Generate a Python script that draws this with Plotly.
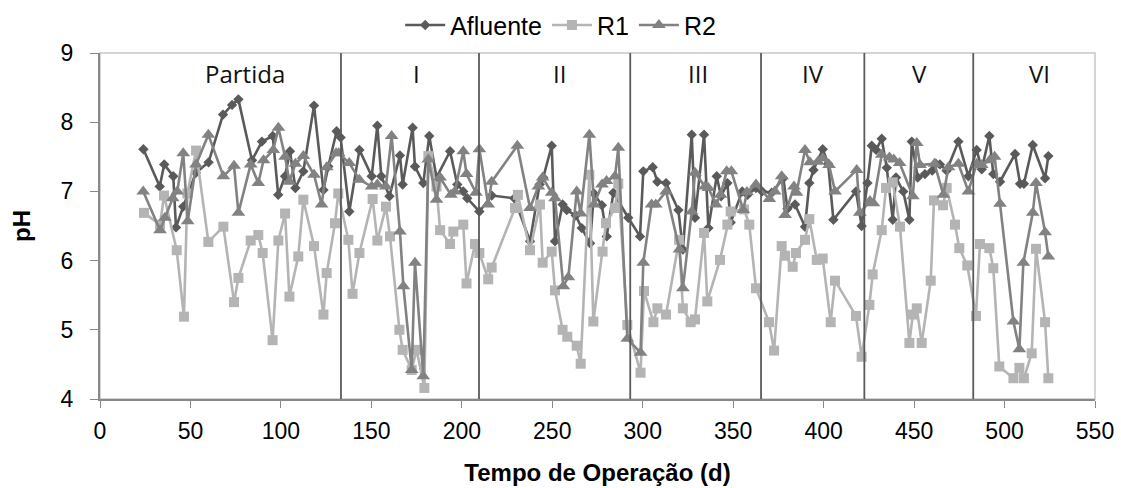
import plotly.graph_objects as go

# ---------------- data ----------------
afl_days = [24, 33, 35.5, 40.5, 42, 46, 53, 60, 68, 73, 76.5, 84, 89.5, 95.5, 98.5, 102.3, 105, 108,
            112.4, 118.3, 123.5, 126.2, 130.8, 133, 137.8, 143.4, 150.2, 153.3, 155.5, 160, 165.8, 167.3,
            172.8, 174.1, 178.7, 182, 186, 193.5, 197.5, 200.8, 203, 209.7, 216.5, 229, 237.7, 243, 245,
            249.7, 251.5, 255.7, 258, 263, 266.3, 270.9, 273, 277.4, 280.1, 283.8, 292, 298.5, 300.3,
            305.5, 308.1, 312.9, 319.7, 322.2, 327.1, 328.9, 333.9, 336.3, 340.9, 343.3, 346.8, 348.6,
            355, 358, 362.6, 366, 371.3, 377.7, 380, 384.2, 389.7, 392.1, 394.4, 399.5, 402.5, 405.4,
            417.9, 421, 424.2, 426.6, 429, 432.1, 434.9, 438.2, 440, 444, 447.4, 448.7, 452, 456, 460,
            462, 464.3, 468, 474.5, 480, 484.6, 487.4, 491.6, 493.8, 497.5, 505.8, 508.6, 510.7, 515.6,
            522.4, 524.2]
afl_ph = [7.61, 7.07, 7.39, 7.22, 6.48, 6.78, 7.27, 7.42, 8.11, 8.25, 8.33, 7.45, 7.72, 7.8, 6.95, 7.22,
          7.58, 7.05, 7.29, 8.24, 7.02, 7.36, 7.87, 7.78, 6.71, 7.6, 7.22, 7.95, 7.22, 6.93, 7.52, 7.1,
          7.92, 7.36, 7.12, 7.8, 7.2, 7.58, 7.1, 7.0, 6.9, 6.71, 6.94, 6.9, 6.28, 7.1, 7.2, 7.66, 6.28,
          6.81, 6.73, 6.65, 6.47, 6.25, 6.97, 6.8, 6.35, 6.98, 6.62, 6.35, 7.29, 7.35, 7.14, 7.12, 6.73,
          6.16, 7.82, 6.62, 7.82, 6.47, 7.22, 6.93, 7.12, 6.55, 7.0, 6.95, 7.05, 7.0, 6.98, 7.19, 6.75,
          6.81, 6.49, 7.12, 7.31, 7.61, 7.4, 6.59, 7.0, 6.5, 7.12, 7.66, 7.6, 7.76, 7.34, 6.59, 7.2, 7.0,
          6.59, 7.72, 7.2, 7.25, 7.3, 7.4, 7.39, 7.3, 7.72, 7.22, 7.6, 7.32, 7.8, 7.25, 7.14, 7.54, 7.11,
          7.11, 7.67, 7.19, 7.51]

r1_days = [24.3, 33.2, 35.4, 42.4, 46.4, 48.3, 53.1, 59.9, 68.2, 74.1, 76.5, 83.3, 87.5, 89.9, 95.4,
           98.6, 102.3, 104.7, 109.6, 112.4, 118.3, 123.5, 125.3, 129.9, 131.7, 137.3, 139.6, 143.4,
           150.7, 153.3, 158.1, 160.3, 165.5, 167.3, 172.3, 175, 179.3, 181.5, 186, 188, 193.5, 195.3,
           200.8, 202.6, 207.3, 209.7, 214.6, 216.5, 229.4, 231, 237.7, 243.2, 244.7, 249.7, 251.5,
           255.7, 258.3, 263.5, 265.7, 270.5, 272.7, 277.8, 279.7, 284.7, 286.5, 291.5, 298.8, 300.7,
           305.9, 308.1, 312.9, 320.1, 322.2, 326.5, 328.9, 333.9, 335.7, 342.7, 346.8, 348.6, 356,
           358.9, 362.6, 369.8, 372.6, 376.8, 378.7, 382.9, 384.7, 389.7, 392.1, 396.2, 399.5, 403.9,
           406.3, 417.9, 421, 425.3, 427.1, 432.1, 434.5, 438.2, 442.2, 447.4, 449.3, 451.5, 454.2,
           459.2, 461, 466, 468, 472.6, 475, 479.4, 484.2, 486.4, 491.6, 493.8, 497.1, 504.9, 508.2,
           510.7, 515, 517.4, 522.4, 524.2]
r1_ph = [6.69, 6.52, 6.94, 6.15, 5.19, 6.97, 7.59, 6.27, 6.49, 5.4, 5.75, 6.29, 6.37, 6.11, 4.85, 6.29,
         6.68, 5.48, 6.06, 6.88, 6.21, 5.22, 5.82, 6.54, 6.97, 6.3, 5.52, 6.11, 6.89, 6.29, 6.78, 6.35,
         5.0, 4.71, 4.42, 4.71, 4.16, 7.51, 7.07, 6.44, 6.24, 6.42, 6.52, 5.67, 6.24, 6.11, 5.73, 5.9,
         6.76, 6.95, 6.15, 6.81, 5.97, 6.13, 5.57, 5.0, 4.9, 4.77, 4.51, 7.24, 5.12, 6.13, 6.54, 6.76,
         7.11, 5.07, 4.38, 5.56, 5.11, 5.31, 5.22, 6.3, 5.31, 5.11, 5.15, 6.4, 5.41, 6.01, 6.52, 6.71,
         6.74, 6.52, 5.6, 5.11, 4.7, 6.21, 6.07, 5.91, 6.11, 6.3, 6.6, 6.01, 6.03, 5.11, 5.71, 5.2, 4.61,
         5.36, 5.8, 6.44, 7.05, 7.13, 6.49, 4.81, 5.22, 5.31, 4.81, 5.71, 6.87, 6.8, 7.05, 6.52, 6.18,
         5.93, 5.2, 6.24, 6.18, 5.89, 4.47, 4.3, 4.45, 4.3, 4.66, 6.17, 5.11, 4.3]

r2_days = [23.9, 33.2, 35.9, 40.2, 42.7, 46, 48.5, 53.1, 59.9, 68.2, 74.1, 76.5, 83.3, 87.5, 90.4, 95.8,
           98.6, 102.3, 104.7, 108, 112.4, 118.3, 122.5, 125.3, 130.5, 132, 137.8, 143.4, 150.2, 153.3,
           158, 161.2, 165.8, 167.7, 172.3, 174.1, 178.7, 181.5, 186, 188, 194, 196.2, 200.8, 202.6,
           207.8, 209.7, 214.6, 216.5, 230.7, 237.7, 242.3, 244.7, 249.7, 251.5, 256.1, 258.9, 263.5,
           265.7, 270.5, 273.1, 277.5, 280, 284.7, 286.5, 291.5, 298.8, 300.3, 304.9, 307.2, 312.9,
           320.3, 322.2, 327.1, 328.9, 334.4, 336.3, 340.5, 343, 346.4, 349, 355.6, 357.6, 362.6, 370,
           373, 376.8, 378.7, 383.6, 385, 389.7, 392.4, 396.8, 399.5, 403, 406.3, 418.3, 420, 425.6,
           427.5, 432.1, 436.4, 438.8, 442, 449.3, 451.5, 453.3, 461.3, 466.2, 469, 474.5, 480, 484.6,
           487.4, 491.8, 494.5, 497.5, 504.9, 508.2, 510.4, 515.6, 517.4, 522.4, 524.2]
r2_ph = [7.0, 6.44, 6.62, 6.9, 7.0, 7.55, 6.57, 7.39, 7.82, 7.22, 7.37, 6.69, 7.39, 7.12, 7.45, 7.6,
         7.92, 7.5, 7.14, 7.4, 7.51, 7.24, 6.81, 7.35, 7.55, 7.55, 7.41, 7.17, 7.07, 7.1, 7.07, 7.8,
         6.42, 5.63, 4.42, 5.97, 4.33, 7.46, 6.88, 7.2, 6.95, 7.0, 7.58, 7.25, 6.98, 7.61, 6.81, 7.14,
         7.66, 6.76, 7.07, 7.2, 6.98, 6.9, 5.63, 5.76, 7.0, 6.68, 7.82, 6.81, 7.1, 7.15, 7.22, 7.63,
         4.87, 4.67, 5.97, 6.81, 6.81, 7.0, 6.16, 5.6, 6.71, 7.27, 7.07, 7.05, 6.81, 6.95, 7.29, 7.29,
         6.73, 6.99, 7.1, 6.89, 7.0, 7.22, 6.66, 7.07, 6.98, 7.6, 7.42, 7.43, 7.48, 7.38, 7.0, 7.31,
         6.69, 6.86, 6.83, 7.53, 7.49, 7.46, 7.41, 6.93, 7.7, 7.38, 7.4, 6.95, 7.35, 7.4, 7.0, 7.4,
         7.38, 7.45, 7.5, 6.82, 5.12, 4.72, 5.97, 6.69, 7.12, 6.41, 6.06]

phase_bounds = [133.2, 209.5, 293.1, 365.4, 422.5, 482.7]
phase_names = ["Partida", "I", "II", "III", "IV", "V", "VI"]
phase_label_days = [80, 175, 254, 330.5, 394, 453, 519.5]
phase_label_ph = 8.71

x_ticks = [0, 50, 100, 150, 200, 250, 300, 350, 400, 450, 500, 550]
y_ticks = [4, 5, 6, 7, 8, 9]

# ---------------- figure ----------------
C_AFL = "#5a5a5a"
C_R1 = "#b4b4b4"
C_R2 = "#828282"

fig = go.Figure()
fig.add_trace(go.Scatter(x=afl_days, y=afl_ph, name="Afluente", mode="lines+markers",
                         line=dict(color=C_AFL, width=2.6),
                         marker=dict(symbol="diamond", size=8, color=C_AFL)))
fig.add_trace(go.Scatter(x=r1_days, y=r1_ph, name="R1", mode="lines+markers",
                         line=dict(color=C_R1, width=2.6),
                         marker=dict(symbol="square", size=10, color=C_R1)))
fig.add_trace(go.Scatter(x=r2_days, y=r2_ph, name="R2", mode="lines+markers",
                         line=dict(color=C_R2, width=2.6),
                         marker=dict(symbol="triangle-up", size=12, color=C_R2)))

for b in phase_bounds:
    fig.add_shape(type="line", xref="x", yref="y", x0=b, x1=b, y0=4, y1=9,
                  line=dict(color="#5a5a5a", width=1.8), layer="above")

for name, d in zip(phase_names, phase_label_days):
    fig.add_annotation(x=d, y=phase_label_ph, xref="x", yref="y", text=name, showarrow=False,
                       font=dict(family="Open Sans, Noto Sans, sans-serif", size=24, color="#111"))

# light frame (top / right)
fig.add_shape(type="rect", xref="paper", yref="paper", x0=0, x1=1, y0=0, y1=1,
              line=dict(color="#c8c8c8", width=1.5), layer="below")

fig.update_layout(
    width=1121, height=488,
    margin=dict(l=100, r=26, t=53, b=89, autoexpand=False),
    paper_bgcolor="white", plot_bgcolor="white",
    font=dict(family="Liberation Sans, Arial, sans-serif", size=23, color="#000"),
    showlegend=True,
    legend=dict(orientation="h", x=0.463, xanchor="center", y=1.08, yanchor="middle",
                font=dict(size=25), itemwidth=40, tracegroupgap=0, bgcolor="rgba(0,0,0,0)"),
    xaxis=dict(range=[0, 550], tickvals=x_ticks, ticks="outside", ticklen=7, tickcolor="#888",
               showline=True, linecolor="#888", linewidth=2, showgrid=False, zeroline=False,
               tickfont=dict(size=23), ticklabelstandoff=3,
               title=dict(text="<b>Tempo de Operação (d)</b>", font=dict(size=24), standoff=22)),
    yaxis=dict(range=[4, 9], tickvals=y_ticks, ticks="outside", ticklen=8, tickcolor="#888",
               showline=True, linecolor="#888", linewidth=2, showgrid=False, zeroline=False,
               tickfont=dict(size=23), ticklabelstandoff=12,
               title=dict(text="<b>pH</b>", font=dict(size=24), standoff=23)),
)

fig.write_html("out.html")
